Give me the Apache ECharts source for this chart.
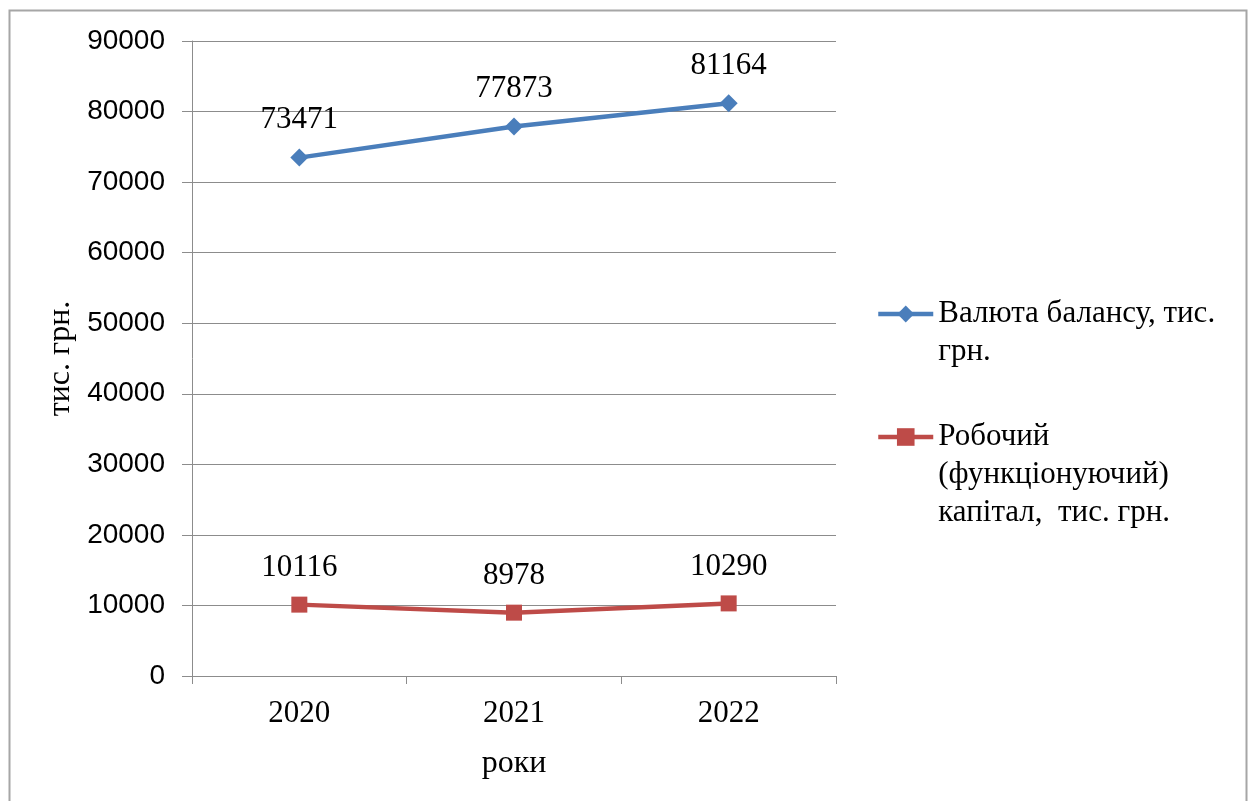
<!DOCTYPE html>
<html>
<head>
<meta charset="utf-8">
<script src="https://cdn.jsdelivr.net/npm/echarts@6/dist/echarts.min.js"></script>
<style>
  html, body { margin: 0; padding: 0; background: #ffffff; }
  #chart { width: 1253px; height: 801px; }
</style>
</head>
<body>
<div id="chart"></div>
<script>
// Years on the category axis
const years = ['2020', '2021', '2022'];
// Balance sheet total, thousand UAH
const balanceTotal = [73471, 77873, 81164];
// Working (functioning) capital, thousand UAH
const workingCapital = [10116, 8978, 10290];
// Series names shown in the legend
const seriesNames = ['Валюта балансу, тис.\nгрн.', 'Робочий\n(функціонуючий)\nкапітал,  тис. грн.'];
// Axis titles
const yTitle = 'тис. грн.';
const xTitle = 'роки';

const serif = '"Liberation Serif", "Times New Roman", serif';
const sans = '"Liberation Sans", Arial, sans-serif';
const gridColor = '#8c8c8c';
const LH = 38;

const chart = echarts.init(document.getElementById('chart'), null, { renderer: 'canvas' });

// One legend block per series; blank lines are prepended so that the
// first line of a multi-line name sits level with its icon.
function legendFor(name, iconY, iconH) {
  const lines = name.split('\n').length;
  const total = 2 * lines - 1;
  return {
    show: true,
    data: [name],
    orient: 'vertical',
    left: 876,
    top: iconY - (total * LH) / 2,
    padding: 0,
    itemWidth: 55,
    itemHeight: iconH,
    itemGap: 0,
    selectedMode: false,
    lineStyle: { width: 4.5 },
    formatter: function (n) { return '\n'.repeat(lines - 1) + n; },
    textStyle: {
      fontFamily: serif,
      fontSize: 31,
      color: '#000',
      lineHeight: LH
    }
  };
}

chart.setOption({
  animation: false,
  backgroundColor: '#ffffff',
  graphic: [{
    type: 'rect',
    shape: { x: 9.5, y: 10.5, width: 1237, height: 800 },
    style: { fill: 'none', stroke: '#a6a6a6', lineWidth: 2 },
    silent: true
  }],
  grid: { left: 192, right: 417, top: 41, bottom: 125 },
  legend: [
    legendFor(seriesNames[0], 314, 21),
    legendFor(seriesNames[1], 437, 22)
  ],
  xAxis: {
    type: 'category',
    data: years,
    boundaryGap: true,
    name: xTitle,
    nameLocation: 'middle',
    nameGap: 72,
    nameTextStyle: { fontFamily: serif, fontSize: 32, color: '#000' },
    axisLine: { show: true, lineStyle: { color: gridColor, width: 1 } },
    axisTick: { show: true, length: 8, alignWithLabel: false, lineStyle: { color: gridColor } },
    axisLabel: { margin: 22, fontFamily: serif, fontSize: 31, color: '#000' },
    splitLine: { show: false }
  },
  yAxis: {
    type: 'value',
    min: 0,
    max: 90000,
    interval: 10000,
    name: yTitle,
    nameLocation: 'middle',
    nameGap: 114,
    nameRotate: 90,
    nameTextStyle: { fontFamily: serif, fontSize: 32, color: '#000' },
    axisLine: { show: true, lineStyle: { color: gridColor, width: 1 } },
    axisTick: { show: true, length: 10, lineStyle: { color: gridColor } },
    axisLabel: {
      margin: 27,
      fontFamily: sans,
      fontSize: 28,
      color: '#000',
      formatter: function (v) { return String(v); }
    },
    splitLine: { show: true, lineStyle: { color: gridColor, width: 1 } }
  },
  series: [
    {
      name: seriesNames[0],
      type: 'line',
      data: balanceTotal,
      symbol: 'diamond',
      symbolSize: 18,
      lineStyle: { color: '#4a7ebb', width: 4.5 },
      itemStyle: { color: '#4a7ebb' },
      label: {
        show: true,
        position: 'top',
        distance: 13,
        fontFamily: serif,
        fontSize: 31,
        color: '#000'
      }
    },
    {
      name: seriesNames[1],
      type: 'line',
      data: workingCapital,
      symbol: 'rect',
      symbolSize: 16,
      lineStyle: { color: '#be4b48', width: 4.5 },
      itemStyle: { color: '#be4b48' },
      label: {
        show: true,
        position: 'top',
        distance: 13,
        fontFamily: serif,
        fontSize: 31,
        color: '#000'
      }
    }
  ]
});
</script>
</body>
</html>
